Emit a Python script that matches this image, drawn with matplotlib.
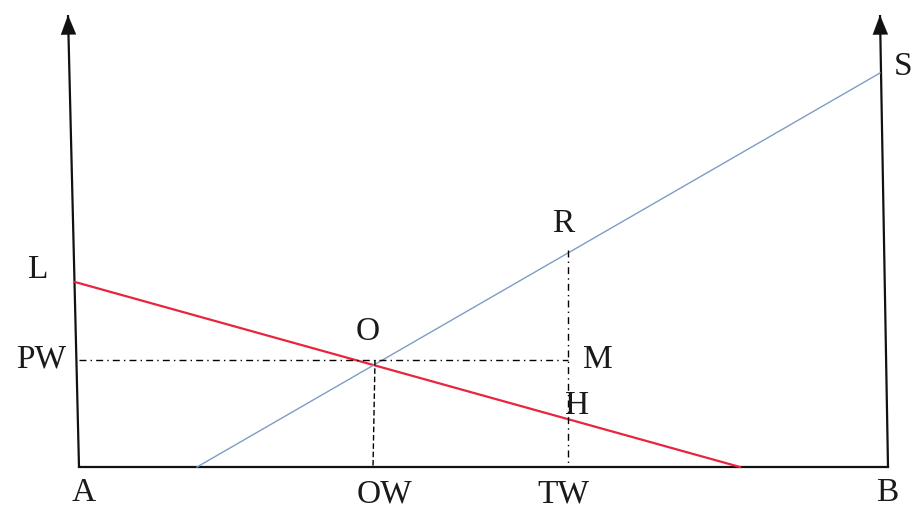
import matplotlib
matplotlib.use("Agg")
import matplotlib.pyplot as plt

# Diagram coordinates (origin at A, units ~ pixels, y upward)
left_axis_x = [0, -11]
left_axis_y = [0, 452]
right_axis_x = [809, 801]
right_axis_y = [0, 452]
base_x = [0, 809]
base_y = [0, 0]

red_x = [-4, 661]        # L -> ground
red_y = [185, 0]
blue_x = [118, 801]      # ground -> S
blue_y = [0, 394]

pw_y = 107
o_x = 296
tw_x = 489
r_y = 217

labels = ["L", "PW", "O", "R", "M", "H", "S", "A", "OW", "TW", "B"]
label_x = [-41, -38, 289, 484, 519, 498, 824, 5, 305, 484, 808]
label_y = [197, 108, 135, 243, 107, 61, 400, -26, -27, -27, -26]

fig = plt.figure(figsize=(9.15, 5.09), dpi=100)
ax = fig.add_axes([0, 0, 1, 1])
ax.set_xlim(-79, 836)
ax.set_ylim(-42, 467)
ax.axis("off")

lw_axis = 1.6
ax.plot(left_axis_x, left_axis_y, color="#111111", lw=lw_axis, solid_capstyle="butt")
ax.plot(right_axis_x, right_axis_y, color="#111111", lw=lw_axis, solid_capstyle="butt")
ax.plot(base_x, base_y, color="#111111", lw=lw_axis)

# arrow heads
for xs, ys in [(left_axis_x, left_axis_y), (right_axis_x, right_axis_y)]:
    ax.annotate("", xy=(xs[1], ys[1]), xytext=(xs[1] + (xs[0]-xs[1])*0.05, ys[1] - 22),
                arrowprops=dict(arrowstyle="-|>,head_length=1.4,head_width=0.55",
                                color="#111111", lw=0.1, shrinkA=0, shrinkB=0))

ax.plot(red_x, red_y, color="#e8243f", lw=1.6)
ax.plot(blue_x, blue_y, color="#7e9cc6", lw=1.0)

# dashed guides
ax.plot([0, tw_x], [pw_y, pw_y], color="black", lw=1.0, linestyle=(0, (5, 3, 1, 3)))
ax.plot([o_x, o_x - 2], [pw_y, 0], color="black", lw=1.0, linestyle=(0, (4, 2)))
ax.plot([tw_x, tw_x], [r_y, 0], color="black", lw=1.0, linestyle=(0, (5, 3, 1, 3)))

for t, x, y in zip(labels, label_x, label_y):
    ax.text(x, y, t, fontsize=24, family="Liberation Serif", ha="center", va="center",
            color="#1a1a1a")

fig.savefig("out.png", dpi=100, facecolor="white")
